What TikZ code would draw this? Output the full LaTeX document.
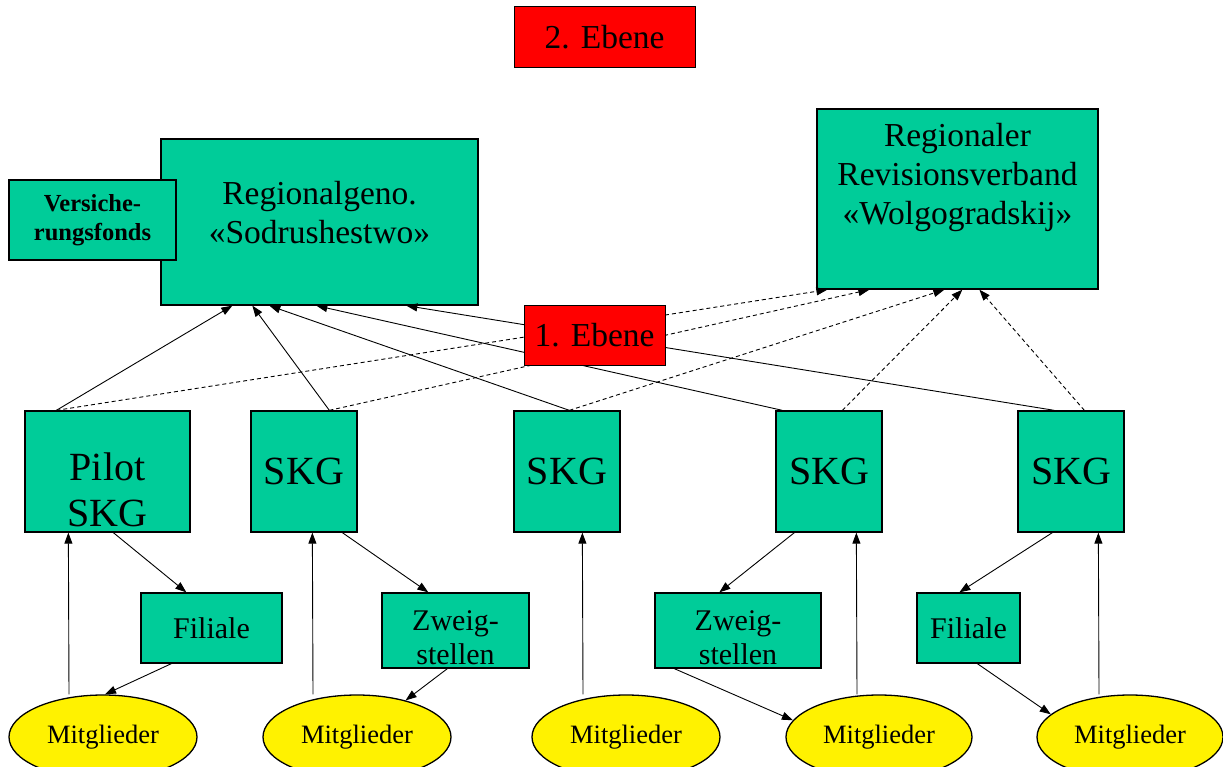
\documentclass[tikz,border=0pt]{standalone}
\usepackage{fontspec}
\setmainfont{Liberation Serif}
\usetikzlibrary{shapes.geometric,arrows.meta}
\definecolor{boxgreen}{RGB}{0,204,153}

\begin{document}
\begin{tikzpicture}[x=1pt,y=-1pt]
		\useasboundingbox (0,0) rectangle (1223,767);
		\clip (0,0) rectangle (1223,767);
		\tikzstyle{box}=[draw=black,line width=1.3pt,fill=boxgreen,inner sep=0pt,align=center]
		\tikzstyle{level}=[draw=black,line width=1pt,fill=red,inner sep=0pt,font=\fontsize{33.5}{38}\selectfont]
		\tikzstyle{member}=[ellipse,draw=black,line width=1.3pt,fill=yellow,inner sep=0pt,minimum width=188pt,minimum height=84pt,font=\fontsize{26.5}{30}\selectfont]
		\tikzstyle{up}=[-{Triangle[length=11pt,width=8pt]},line width=0.9pt]
		\tikzstyle{dashup}=[up,dash pattern=on 4pt off 3pt]
		% 2. Ebene
		\node[level,minimum width=181pt,minimum height=61pt] (eb2) at (604.5,37.5) {2. Ebene};
		\node[box,minimum width=317pt,minimum height=166pt,font=\fontsize{33.5}{39}\selectfont] (reg) at (319.5,222) {Regionalgeno.\\«Sodrushestwo»\\[-20pt]\mbox{}};
		\node[box,minimum width=167pt,minimum height=80pt,font=\fontsize{24.5}{29}\selectfont\bfseries] (vers) at (92.5,220) {Versiche-\\rungsfonds};
		\node[box,minimum width=281pt,minimum height=180pt,font=\fontsize{33.5}{39}\selectfont] (rev) at (957.5,199) {Regionaler\\Revisionsverband\\«Wolgogradskij»\\[11pt]\mbox{}};
		% 1. Ebene
		\node[box,minimum width=165pt,minimum height=121pt,font=\fontsize{40}{46}\selectfont] (pilot) at (107.5,471.5) {\mbox{}\\[18pt]Pilot\\SKG};
		\node[box,minimum width=106pt,minimum height=121pt,font=\fontsize{40}{46}\selectfont] (skg2) at (304,471.5) {SKG};
		\node[box,minimum width=106pt,minimum height=121pt,font=\fontsize{40}{46}\selectfont] (skg3) at (567,471.5) {SKG};
		\node[box,minimum width=106pt,minimum height=121pt,font=\fontsize{40}{46}\selectfont] (skg4) at (829,471.5) {SKG};
		\node[box,minimum width=106pt,minimum height=121pt,font=\fontsize{40}{46}\selectfont] (skg5) at (1071,471.5) {SKG};
		\node[box,minimum width=141pt,minimum height=70pt,font=\fontsize{30}{34}\selectfont] (fil1) at (211.5,628) {Filiale};
		\node[box,minimum width=147pt,minimum height=75pt,font=\fontsize{30}{34}\selectfont] (zw1) at (455.5,630.5) {\mbox{}\\[0pt]Zweig-\\stellen};
		\node[box,minimum width=166pt,minimum height=75pt,font=\fontsize{30}{34}\selectfont] (zw2) at (738,630.5) {\mbox{}\\[0pt]Zweig-\\stellen};
		\node[box,minimum width=103pt,minimum height=70pt,font=\fontsize{30}{34}\selectfont] (fil2) at (968.5,628) {Filiale};
		\node[member] (m1) at (103,737) {Mitglieder};
		\node[member] (m2) at (357,737) {Mitglieder};
		\node[member] (m3) at (626,737) {Mitglieder};
		\node[member,minimum width=186pt] (m4) at (879,737) {Mitglieder};
		\node[member,minimum width=186pt] (m5) at (1130,737) {Mitglieder};
		% SKG -> Regionalgeno / Revisionsverband
		\foreach \s/\a/\b/\c/\d in {pilot/32/72/32/11, skg2/79/92/79/53, skg3/56/109/56/128, skg4/7/156/67/146, skg5/37/246/67/163}{
			\draw[up] ([xshift=\a pt]\s.north west) -- ([xshift=\b pt]reg.south west);
			\draw[dashup] ([xshift=\c pt]\s.north west) -- ([xshift=\d pt]rev.south west);
		}
		% Mitglieder, Filialen, Zweigstellen
		\draw[up] ([xshift=-34pt]m1.north) -- ([xshift=44pt]pilot.south west);
		\draw[up] ([xshift=89pt]pilot.south west) -- ([xshift=46pt]fil1.north west);
		\draw[up] ([xshift=31pt]fil1.south west) -- ([xshift=2pt]m1.north);
		\draw[up] ([xshift=-44pt]m2.north) -- ([xshift=62pt]skg2.south west);
		\draw[up] ([xshift=92pt]skg2.south west) -- ([xshift=47pt]zw1.north west);
		\draw[up] ([xshift=66pt]zw1.south west) -- (m2.37);
		\draw[up] ([xshift=-43pt]m3.north) -- ([xshift=69pt]skg3.south west);
		\draw[up] ([xshift=19pt]skg4.south west) -- ([xshift=65pt]zw2.north west);
		\draw[up] ([xshift=20pt]zw2.south west) -- (m4.169);
		\draw[up] ([xshift=-22pt]m4.north) -- ([xshift=81pt]skg4.south west);
		\draw[up] ([xshift=35pt]skg5.south west) -- ([xshift=43pt]fil2.north west);
		\draw[up] ([xshift=61pt]fil2.south west) -- (m5.164);
		\draw[up] ([xshift=-31pt]m5.north) -- ([xshift=81pt]skg5.south west);
		\node[level,minimum width=141pt,minimum height=60pt] (eb1) at (594.5,335) {1. Ebene};
	\end{tikzpicture}
\end{document}
